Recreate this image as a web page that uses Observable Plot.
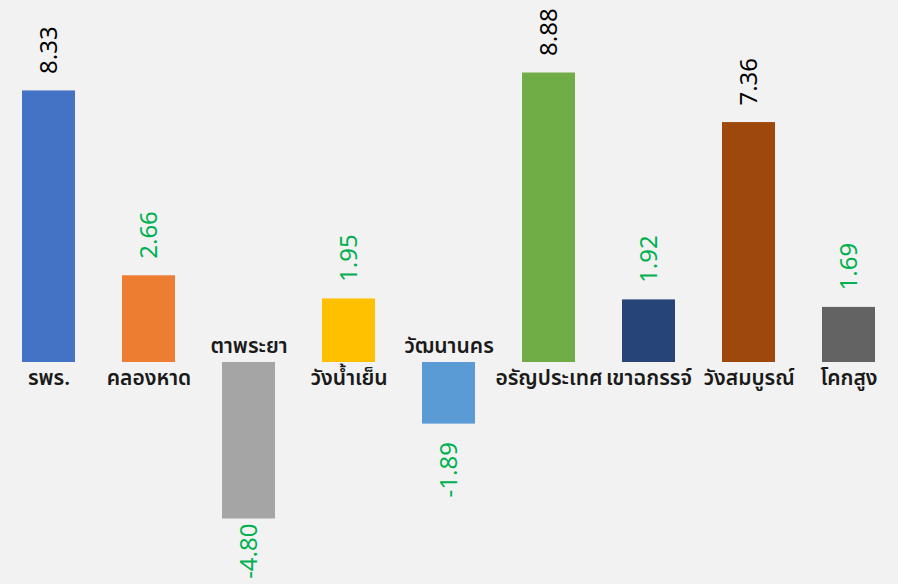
<!DOCTYPE html>
<html>
<head>
<meta charset="utf-8">
<script src="https://cdn.jsdelivr.net/npm/d3@7"></script>
<script src="https://cdn.jsdelivr.net/npm/@observablehq/plot@0.6"></script>
<style>
  html, body { margin: 0; padding: 0; background: #f2f2f2; }
  #chart svg { display: block; background: #f2f2f2; }
</style>
</head>
<body>
<div id="chart"></div>
<script>
const categories = ["รพร.", "คลองหาด", "ตาพระยา", "วังน้ำเย็น", "วัฒนานคร", "อรัญประเทศ", "เขาฉกรรจ์", "วังสมบูรณ์", "โคกสูง"];
const values = [8.33, 2.66, -4.80, 1.95, -1.89, 8.88, 1.92, 7.36, 1.69];
const barColors = ["#4472c4", "#ed7d31", "#a5a5a5", "#ffc000", "#5b9bd5", "#70ad47", "#264478", "#9e480e", "#636363"];
const valueLabels = ["8.33", "2.66", "-4.80", "1.95", "-1.89", "8.88", "1.92", "7.36", "1.69"];

const data = categories.map((c, i) => ({cat: c, v: values[i], color: barColors[i], label: valueLabels[i]}));

const pxPerUnit = 32.6;
const zeroY = 362;
const H = 584;
const yMin = -(H - zeroY) / pxPerUnit;
const yMax = zeroY / pxPerUnit;

// label placement in data units
data.forEach(d => {
  if (d.v >= 0) {
    d.ly = d.v + 17 / pxPerUnit;
  } else {
    d.ly = Math.max(d.v - 18 / pxPerUnit, yMin + 61 / pxPerUnit);
  }
  d.lcolor = d.v > 5 ? "#000000" : "#00b050";
});

const thaiFont = "'Noto Sans Thai', 'Leelawadee UI', Tahoma, 'Noto Sans', sans-serif";
const numFont = "'Noto Sans', sans-serif";

const pos = data.filter(d => d.v >= 0);
const neg = data.filter(d => d.v < 0);

const chart = Plot.plot({
  width: 898,
  height: H,
  marginTop: 0, marginBottom: 0, marginLeft: 0, marginRight: 0,
  style: {background: "#f2f2f2", fontFamily: numFont},
  x: {type: "band", domain: categories, range: [20, 876], paddingInner: 0.472, paddingOuter: 0, axis: null},
  y: {domain: [yMin, yMax], range: [H, 0], axis: null},
  marks: [
    Plot.barY(data, {x: "cat", y: "v", fill: d => d.color}),
    Plot.text(pos, {
      x: "cat", y: "ly", text: "label", rotate: -90, textAnchor: "start",
      fill: "lcolor", fontSize: 24, fontFamily: numFont
    }),
    Plot.text(neg, {
      x: "cat", y: "ly", text: "label", rotate: -90, textAnchor: "end",
      fill: "lcolor", fontSize: 24, fontFamily: numFont
    }),
    Plot.text(pos, {
      x: "cat", y: 0, text: "cat", dy: 16, fontSize: 21, fontWeight: 600,
      fill: "#1a1a1a", fontFamily: thaiFont
    }),
    Plot.text(neg, {
      x: "cat", y: 0, text: "cat", dy: -16, fontSize: 21, fontWeight: 600,
      fill: "#1a1a1a", fontFamily: thaiFont
    })
  ]
});
document.getElementById("chart").appendChild(chart);
</script>
</body>
</html>
